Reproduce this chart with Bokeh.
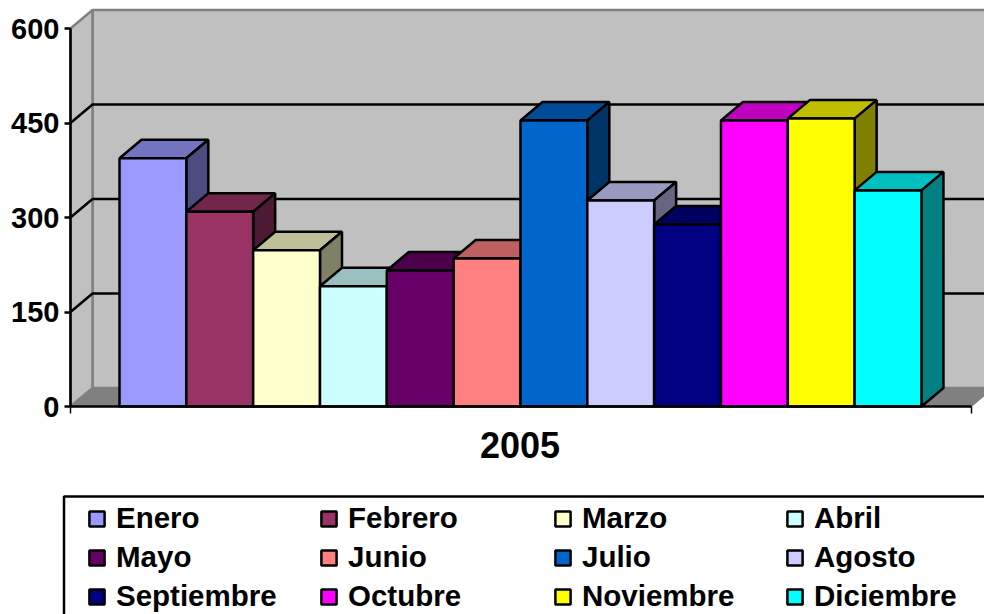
from bokeh.plotting import figure
from bokeh.models import Range1d, FixedTicker, Legend, LegendItem, Label, BoxAnnotation, CustomJSTickFormatter
from bokeh.embed import file_html
from bokeh.resources import INLINE

months = ["Enero", "Febrero", "Marzo", "Abril", "Mayo", "Junio", "Julio", "Agosto",
          "Septiembre", "Octubre", "Noviembre", "Diciembre"]
values = [394, 309, 248, 191, 216, 235, 454, 327, 289, 454, 457, 343]
colors = ["#9999FF", "#993366", "#FFFFCC", "#CCFFFF", "#660066", "#FF8080", "#0066CC", "#CCCCFF",
          "#000080", "#FF00FF", "#FFFF00", "#00FFFF"]
y_ticks = [0, 150, 300, 450, 600]
group_label = "2005"

FONT = "Liberation Sans"
PX_Y = 0.63
PX_X = 66.83
BAR0 = 119
DX = 22 / PX_X
DY = 18.5 / PX_Y
X_L = (70 - BAR0) / PX_X
X_R = (971 - BAR0) / PX_X
X0 = (0 - BAR0) / PX_X
X1 = (984 - BAR0) / PX_X
Y0 = (406 - 614) / PX_Y
Y1 = 406 / PX_Y
LW = 2.5


def shade(c, k):
    r, g, b = (int(c[i:i + 2], 16) for i in (1, 3, 5))
    return "#%02X%02X%02X" % (round(r * k), round(g * k), round(b * k))


p = figure(width=984, height=614, output_backend="svg", toolbar_location=None,
           x_range=Range1d(X0, X1), y_range=Range1d(Y0, Y1),
           min_border_left=0, min_border_right=0, min_border_top=0, min_border_bottom=0,
           outline_line_color=None, background_fill_color="white")
p.grid.visible = False

WALL = "#C0C0C0"
EDGE = "#808080"
# back wall, side wall, floor
p.patch([X_L + DX, X_R + DX, X_R + DX, X_L + DX], [DY, DY, 600 + DY, 600 + DY],
        fill_color=WALL, line_color=EDGE, line_width=2.5)
p.patch([X_L, X_L + DX, X_L + DX, X_L], [0, DY, 600 + DY, 600],
        fill_color=WALL, line_color=EDGE, line_width=2.5)
p.patch([X_L, X_L + DX, X_R + DX, X_R], [0, DY, DY, 0],
        fill_color=EDGE, line_color=EDGE, line_width=1)
grid = y_ticks[1:-1]
p.multi_line([[X_L, X_L + DX, X_R + DX] for _ in grid], [[v, v + DY, v + DY] for v in grid],
             line_color="black", line_width=LW)

fronts = []
for i, (v, c) in enumerate(zip(values, colors)):
    l, r = i, i + 1
    p.patch([l, l + DX, r + DX, r], [v, v + DY, v + DY, v],
            fill_color=shade(c, 0.75), line_color="black", line_width=LW)
    p.patch([r, r + DX, r + DX, r], [0, DY, v + DY, v],
            fill_color=shade(c, 0.5), line_color="black", line_width=LW)
    fronts.append(p.quad(left=l, right=r, bottom=0, top=v,
                         fill_color=c, line_color="black", line_width=LW))

ya = p.yaxis[0]
ya.fixed_location = X_L
ya.ticker = FixedTicker(ticks=y_ticks)
ya.bounds = (0, 600)
ya.major_label_text_font = FONT
ya.major_label_text_font_style = "bold"
ya.major_label_text_font_size = "29px"
ya.major_label_text_color = "black"
ya.major_label_standoff = 5
ya.major_tick_out = 6
ya.major_tick_in = 0
ya.minor_tick_out = 0
ya.minor_tick_in = 0
ya.axis_line_width = LW
ya.major_tick_line_width = LW

xa = p.xaxis[0]
xa.fixed_location = 0
xa.ticker = FixedTicker(ticks=[X_L, X_R])
xa.bounds = (X_L, X_R)
xa.formatter = CustomJSTickFormatter(code="return ''")
xa.major_tick_out = 7
xa.major_tick_in = 0
xa.minor_tick_out = 0
xa.minor_tick_in = 0
xa.axis_line_width = LW
xa.major_tick_line_width = 1.5

p.add_layout(Label(x=(X_L + X_R) / 2, y=0, x_offset=-1, y_offset=-38, text=group_label, text_align="center",
                   text_baseline="middle", text_font=FONT, text_font_style="bold",
                   text_font_size="36px", text_color="black"))

p.add_layout(BoxAnnotation(left=63.5, right=1000, top=(406 - 496) / PX_Y, bottom=Y0 - 50,
                           left_units="screen", right_units="screen",
                           fill_color="white", fill_alpha=1, line_color="black", line_alpha=1, line_width=LW,
                           editable=False))

# legend: one column of three entries per position
LEG_X = [87, 319, 553, 785]
for col in range(4):
    items = [LegendItem(label=months[col + row * 4], renderers=[fronts[col + row * 4]]) for row in range(3)]
    leg = Legend(items=items, location=(LEG_X[col], 1), orientation="vertical",
                 background_fill_alpha=0, border_line_color=None, padding=0, margin=0,
                 spacing=5, glyph_width=19, glyph_height=19, label_standoff=10,
                 label_text_font=FONT, label_text_font_style="bold", label_text_font_size="29.5px",
                 label_text_color="black", label_height=31, click_policy="none")
    p.add_layout(leg)

open("out.html", "w").write(file_html(p, INLINE))
